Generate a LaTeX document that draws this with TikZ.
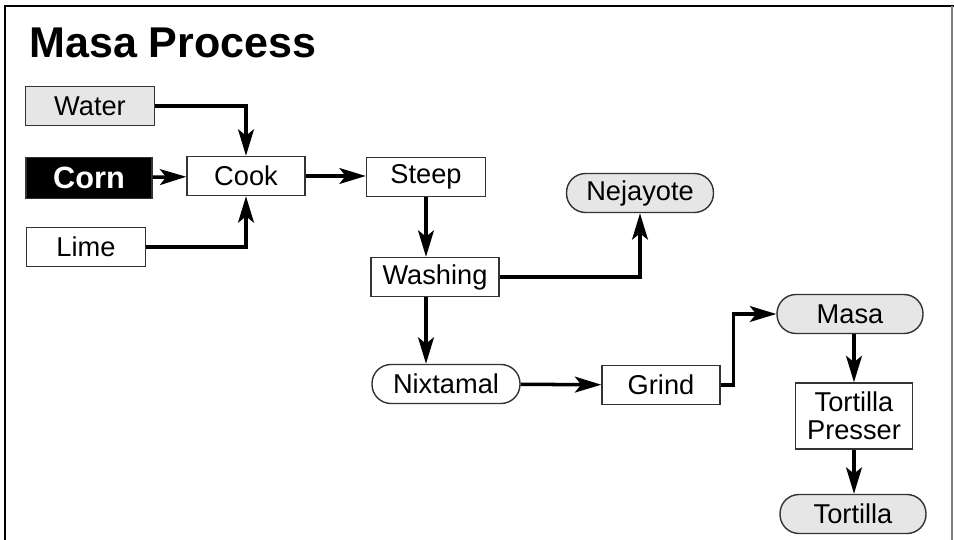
\documentclass[tikz,border=0pt]{standalone}
\usepackage{fontspec}
\setmainfont{Liberation Sans}
\usetikzlibrary{arrows.meta}
\definecolor{boxgray}{HTML}{E6E6E6}
\definecolor{edgegray}{HTML}{333333}
\tikzset{
  procbox/.style={draw=edgegray, line width=0.8pt, fill=white, minimum height=0.78cm,
    inner sep=0pt, font=\fontsize{15.5}{17}\selectfont},
  feedbox/.style={procbox, fill=boxgray},
  endbox/.style={procbox, fill=boxgray, rounded corners=0.38cm},
  flow/.style={line width=2pt, -{Stealth[length=15pt,width=9pt,inset=3.5pt]}}
}
\begin{document}
\begin{tikzpicture}[x=0.02cm,y=-0.02cm]
    \useasboundingbox (0,0) rectangle (954,540);
    % Rahmen
    \draw[line width=1.2pt] (5,540) -- (5,6) -- (954,6);
    \draw[line width=0.6pt, gray] (952,6) -- (952,540);

    % Titel
    \node[anchor=base west, inner sep=0pt, font=\fontsize{24.5}{27}\selectfont\bfseries] (title) at (29,58) {Masa Process};

    % Zutaten
    \node[feedbox, minimum width=2.58cm] (water) at (90,106) {Water};
    \node[procbox, fill=black, text=white, minimum width=2.52cm, minimum height=0.82cm,
      font=\fontsize{17.5}{19}\selectfont\bfseries] (corn) at (89,178) {Corn};
    \node[procbox, minimum width=2.38cm] (lime) at (86,247) {Lime};

    % Verarbeitung
    \node[procbox, minimum width=2.36cm] (cook) at (246,176) {Cook};
    \node[procbox, minimum width=2.38cm] (steep) at (426,177) {Steep};
    \node[procbox, minimum width=2.56cm] (washing) at (435,277) {Washing};
    \node[endbox, minimum width=2.94cm] (nejayote) at (640,193) {Nejayote};
    \node[endbox, fill=white, minimum width=2.96cm] (nixtamal) at (446,384) {Nixtamal};
    \node[procbox, minimum width=2.36cm] (grind) at (661,385) {Grind};

    % Produkte
    \node[endbox, minimum width=2.92cm] (masa) at (850,314) {Masa};
    \node[procbox, minimum width=2.34cm, minimum height=1.32cm, align=center,
      font=\fontsize{15.5}{16}\selectfont] (presser) at (854,416) {Tortilla\\Presser};
    \node[endbox, minimum width=2.92cm] (tortilla) at (853,514) {Tortilla};

    % Pfeile
    \draw[flow] (water.east) -| (cook.north);
    \draw[flow] (corn) -- (cook);
    \draw[flow] (lime.east) -| (cook.south);
    \draw[flow] (cook.east) -- (steep.west |- cook.east);
    \draw[flow] (steep.south) -- (steep.south |- washing.north);
    \draw[flow] (washing.east) -| (nejayote.south);
    \draw[flow] (steep.south |- washing.south) -- (steep.south |- nixtamal.north);
    \draw[flow] (nixtamal) -- (grind);
    \draw[flow] (grind.east) -- ++(13,0) |- (masa.west);
    \draw[flow] (masa.south -| presser.north) -- (presser.north);
    \draw[flow] (presser.south) -- (presser.south |- tortilla.north);
\end{tikzpicture}
\end{document}
